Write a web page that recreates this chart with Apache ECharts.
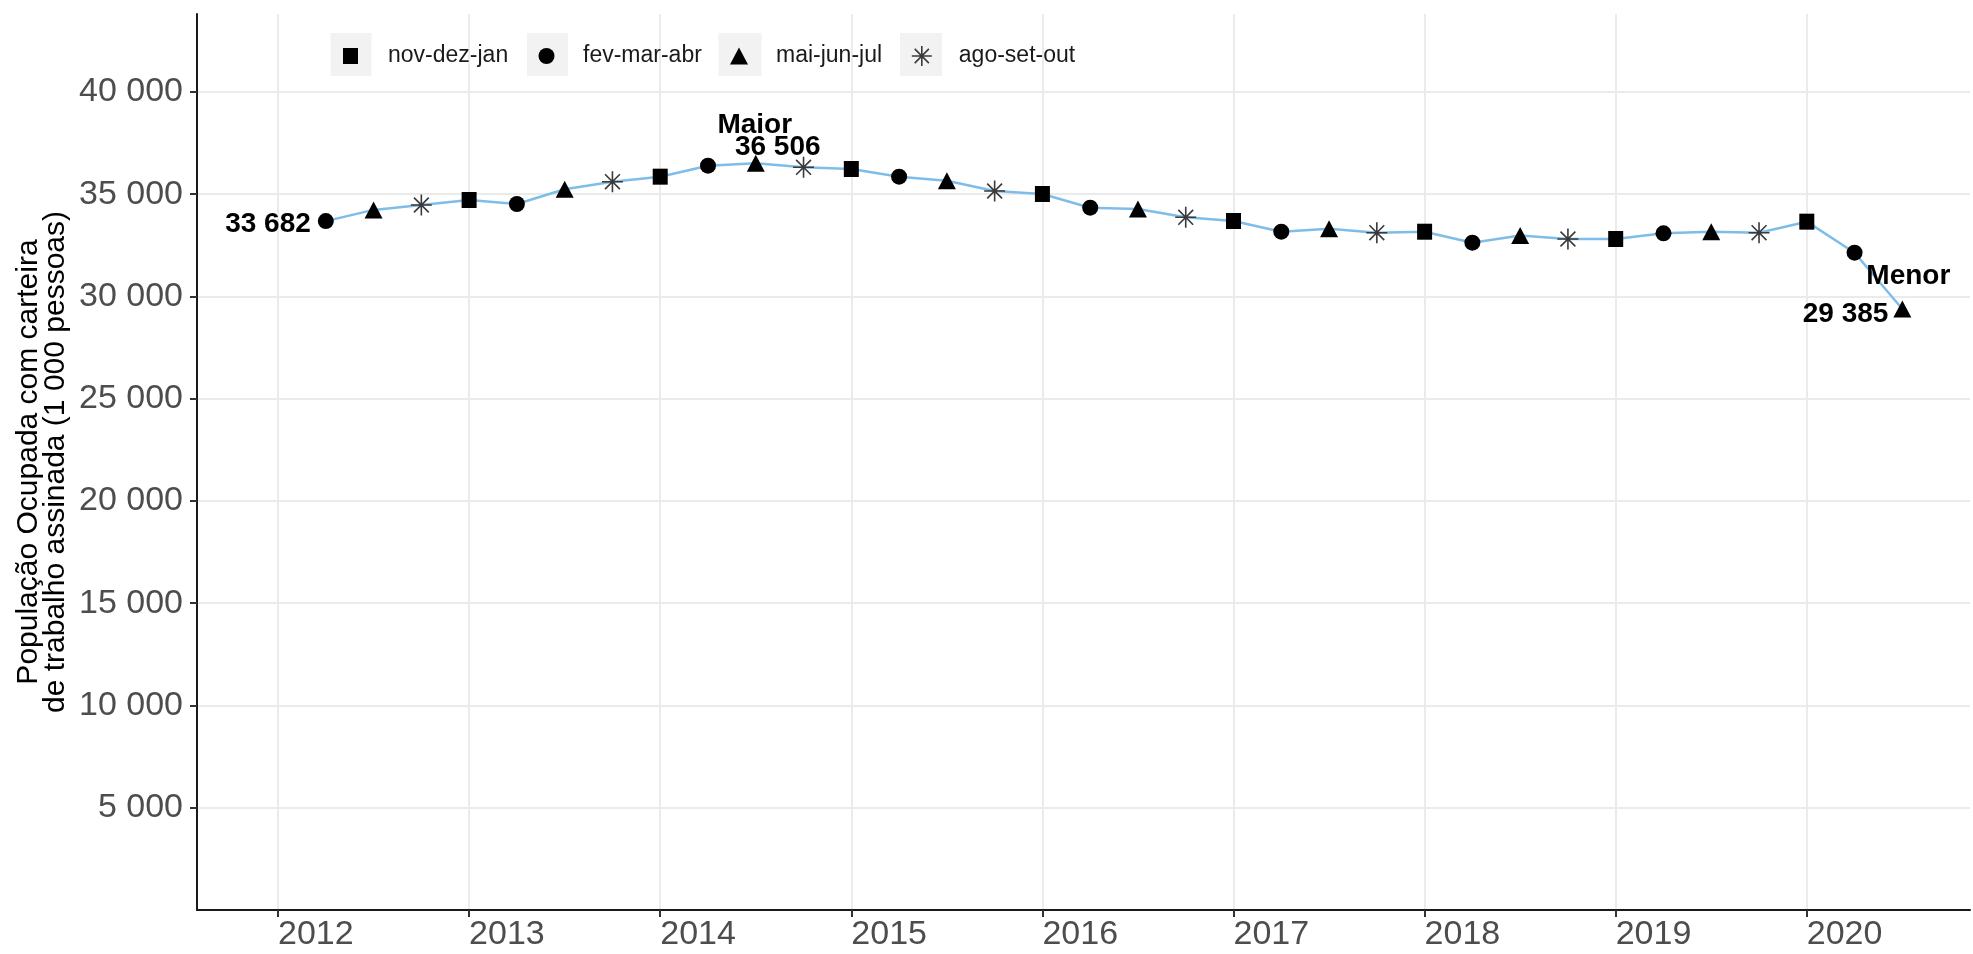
<!DOCTYPE html>
<html><head><meta charset="utf-8">
<script src="https://cdn.jsdelivr.net/npm/echarts@6/dist/echarts.min.js"></script>
<style>html,body{margin:0;padding:0;background:#fff}#c{width:1973px;height:954px}</style>
</head><body><div id="c"></div>
<script>
// Final month of each moving quarter (PNAD Contínua)
const periods = [
  '2012-04','2012-07','2012-10',
  '2013-01','2013-04','2013-07','2013-10',
  '2014-01','2014-04','2014-07','2014-10',
  '2015-01','2015-04','2015-07','2015-10',
  '2016-01','2016-04','2016-07','2016-10',
  '2017-01','2017-04','2017-07','2017-10',
  '2018-01','2018-04','2018-07','2018-10',
  '2019-01','2019-04','2019-07','2019-10',
  '2020-01','2020-04','2020-07'
];
const values = [
  33682, 34230, 34469,
  34714, 34518, 35242, 35609,
  35854, 36392, 36506, 36313,
  36230, 35854, 35653, 35154,
  35008, 34337, 34274, 33868,
  33687, 33163, 33310, 33114,
  33163, 32625, 32977, 32806,
  32806, 33085, 33158, 33114,
  33654, 32136, 29385
];
const quarterNames = ['nov-dez-jan', 'fev-mar-abr', 'mai-jun-jul', 'ago-set-out'];
const monthToQuarter = {1: 0, 4: 1, 7: 2, 10: 3};
const yearTicks = [2012, 2013, 2014, 2015, 2016, 2017, 2018, 2019, 2020];
const yTicks = [5000, 10000, 15000, 20000, 25000, 30000, 35000, 40000];
const yTitle = 'População Ocupada com carteira\nde trabalho assinada (1 000 pessoas)';
const maxLabel = 'Maior';
const minLabel = 'Menor';

const FONT = '"Liberation Sans", Arial, Helvetica, sans-serif';
const fmt = v => String(Math.round(v)).replace(/\B(?=(\d{3})+(?!\d))/g, ' ');

const xs = periods.map(p => { const [y, m] = p.split('-').map(Number); return y + (m - 1) / 12; });
const qs = periods.map(p => monthToQuarter[Number(p.split('-')[1])]);
const iMax = values.indexOf(Math.max(...values));
const iMin = values.indexOf(Math.min(...values));
const iFirst = 0;
const yMax = Math.max(...values) * 1.2;

const symbols = [
  {symbol: 'rect', size: [15, 16]},
  {symbol: 'circle', size: 16},
  {symbol: 'triangle', size: [18, 17]},
  {symbol: 'path://M10,0L10,20M0,10L20,10M2.93,2.93L17.07,17.07M17.07,2.93L2.93,17.07', size: 21}
];
const labelBase = {show: true, position: 'inside', fontFamily: FONT, fontWeight: 'bold', fontSize: 28, color: '#000'};

function pointLabel(i) {
  if (i === iFirst) {
    return Object.assign({}, labelBase, {formatter: fmt(values[i]), align: 'right', verticalAlign: 'middle', offset: [-15, 3]});
  }
  if (i === iMax) {
    return Object.assign({}, labelBase, {
      formatter: '{m|' + maxLabel + '}\n{v|' + fmt(values[i]) + '}',
      align: 'center', verticalAlign: 'middle', offset: [-1, -27],
      rich: {
        m: {fontFamily: FONT, fontWeight: 'bold', fontSize: 28, lineHeight: 22, color: '#000'},
        v: {fontFamily: FONT, fontWeight: 'bold', fontSize: 28, lineHeight: 22, color: '#000', padding: [0, 0, 0, 46]}
      }
    });
  }
  if (i === iMin) {
    return Object.assign({}, labelBase, {
      formatter: '{m|' + minLabel + '}\n{v|' + fmt(values[i]) + '}',
      align: 'right', verticalAlign: 'middle', offset: [48, -14],
      rich: {
        m: {fontFamily: FONT, fontWeight: 'bold', fontSize: 28, lineHeight: 38, color: '#000'},
        v: {fontFamily: FONT, fontWeight: 'bold', fontSize: 28, lineHeight: 38, color: '#000', padding: [0, 62, 0, 0]}
      }
    });
  }
  return null;
}

const scatterSeries = quarterNames.map((name, q) => {
  const s = symbols[q];
  const isStar = q === 3;
  return {
    name: name, type: 'scatter', z: 5,
    symbol: s.symbol, symbolSize: s.size,
    itemStyle: isStar ? {color: 'transparent', borderColor: '#3a3a3a', borderWidth: 1.6, opacity: 1} : {color: '#000', opacity: 1},
    emphasis: {disabled: true},
    data: xs.map((x, i) => ({x, i})).filter(d => qs[d.i] === q).map(d => {
      const item = {value: [d.x, values[d.i]]};
      const lab = pointLabel(d.i);
      if (lab) item.label = lab;
      return item;
    })
  };
});

const legendPos = [
  {icon: 'rect', w: 15, h: 16, cx: 350.5, text: 388},
  {icon: 'circle', w: 16, h: 16, cx: 546.5, text: 583},
  {icon: 'triangle', w: 18, h: 17, cx: 739, text: 776},
  {icon: symbols[3].symbol, w: 20, h: 20, cx: 921, text: 958}
];
const keyBoxes = [[330.5, 371.5], [527, 568], [718.5, 761.5], [900, 942]];
const legends = quarterNames.map((name, q) => {
  const p = legendPos[q];
  const left = p.cx - p.w / 2;
  const pad = p.text - (left + p.w + 5);
  const lg = {
    data: [{name: name, icon: p.icon}],
    left: left, top: 43, padding: 0,
    itemWidth: p.w, itemHeight: p.h, selectedMode: false,
    textStyle: {fontFamily: FONT, fontSize: 23, color: '#1a1a1a', padding: [0, 0, 0, pad], lineHeight: 26}
  };
  lg.itemStyle = q === 3 ? {color: 'transparent', borderColor: '#3a3a3a', borderWidth: 1.6, opacity: 1} : {color: '#000', opacity: 1};
  return lg;
});

const graphics = keyBoxes.map(b => ({
  type: 'rect', z: 0, shape: {x: b[0], y: 33, width: b[1] - b[0], height: 43},
  style: {fill: '#f2f2f2'}
}));
graphics.push({
  type: 'text', x: 42, y: 462, rotation: Math.PI / 2, z: 10,
  style: {text: yTitle, fontFamily: FONT, fontSize: 30, lineHeight: 27, fill: '#000', align: 'center', verticalAlign: 'middle'}
});

const chart = echarts.init(document.getElementById('c'), null, {renderer: 'canvas'});
chart.setOption({
  animation: false,
  backgroundColor: '#fff',
  grid: {left: 197, right: 3, top: 14, bottom: 44, containLabel: false},
  legend: legends,
  graphic: graphics,
  xAxis: {
    type: 'value', min: 2011.576, max: 2020.854,
    axisLine: {show: true, onZero: false, lineStyle: {color: '#1a1a1a', width: 2}},
    axisTick: {show: true, customValues: yearTicks, length: 7, lineStyle: {color: '#333', width: 2}},
    axisLabel: {customValues: yearTicks, formatter: v => String(v), align: 'left', margin: 8,
      fontFamily: FONT, fontSize: 34, color: '#4d4d4d'},
    splitLine: {show: true, lineStyle: {color: '#ebebeb', width: 2}}
  },
  yAxis: {
    type: 'value', min: 0, max: yMax,
    axisLine: {show: true, onZero: false, lineStyle: {color: '#1a1a1a', width: 2}},
    axisTick: {show: true, customValues: yTicks, length: 7, lineStyle: {color: '#333', width: 2}},
    axisLabel: {customValues: yTicks, formatter: v => fmt(v), margin: 14,
      fontFamily: FONT, fontSize: 34, color: '#4d4d4d'},
    splitLine: {show: true, lineStyle: {color: '#ebebeb', width: 2}}
  },
  series: [{
    name: 'linha', type: 'line', z: 3, showSymbol: false, symbol: 'none', silent: true,
    lineStyle: {color: '#7fbde9', width: 2.5},
    data: xs.map((x, i) => [x, values[i]])
  }].concat(scatterSeries)
});
</script>
</body></html>
